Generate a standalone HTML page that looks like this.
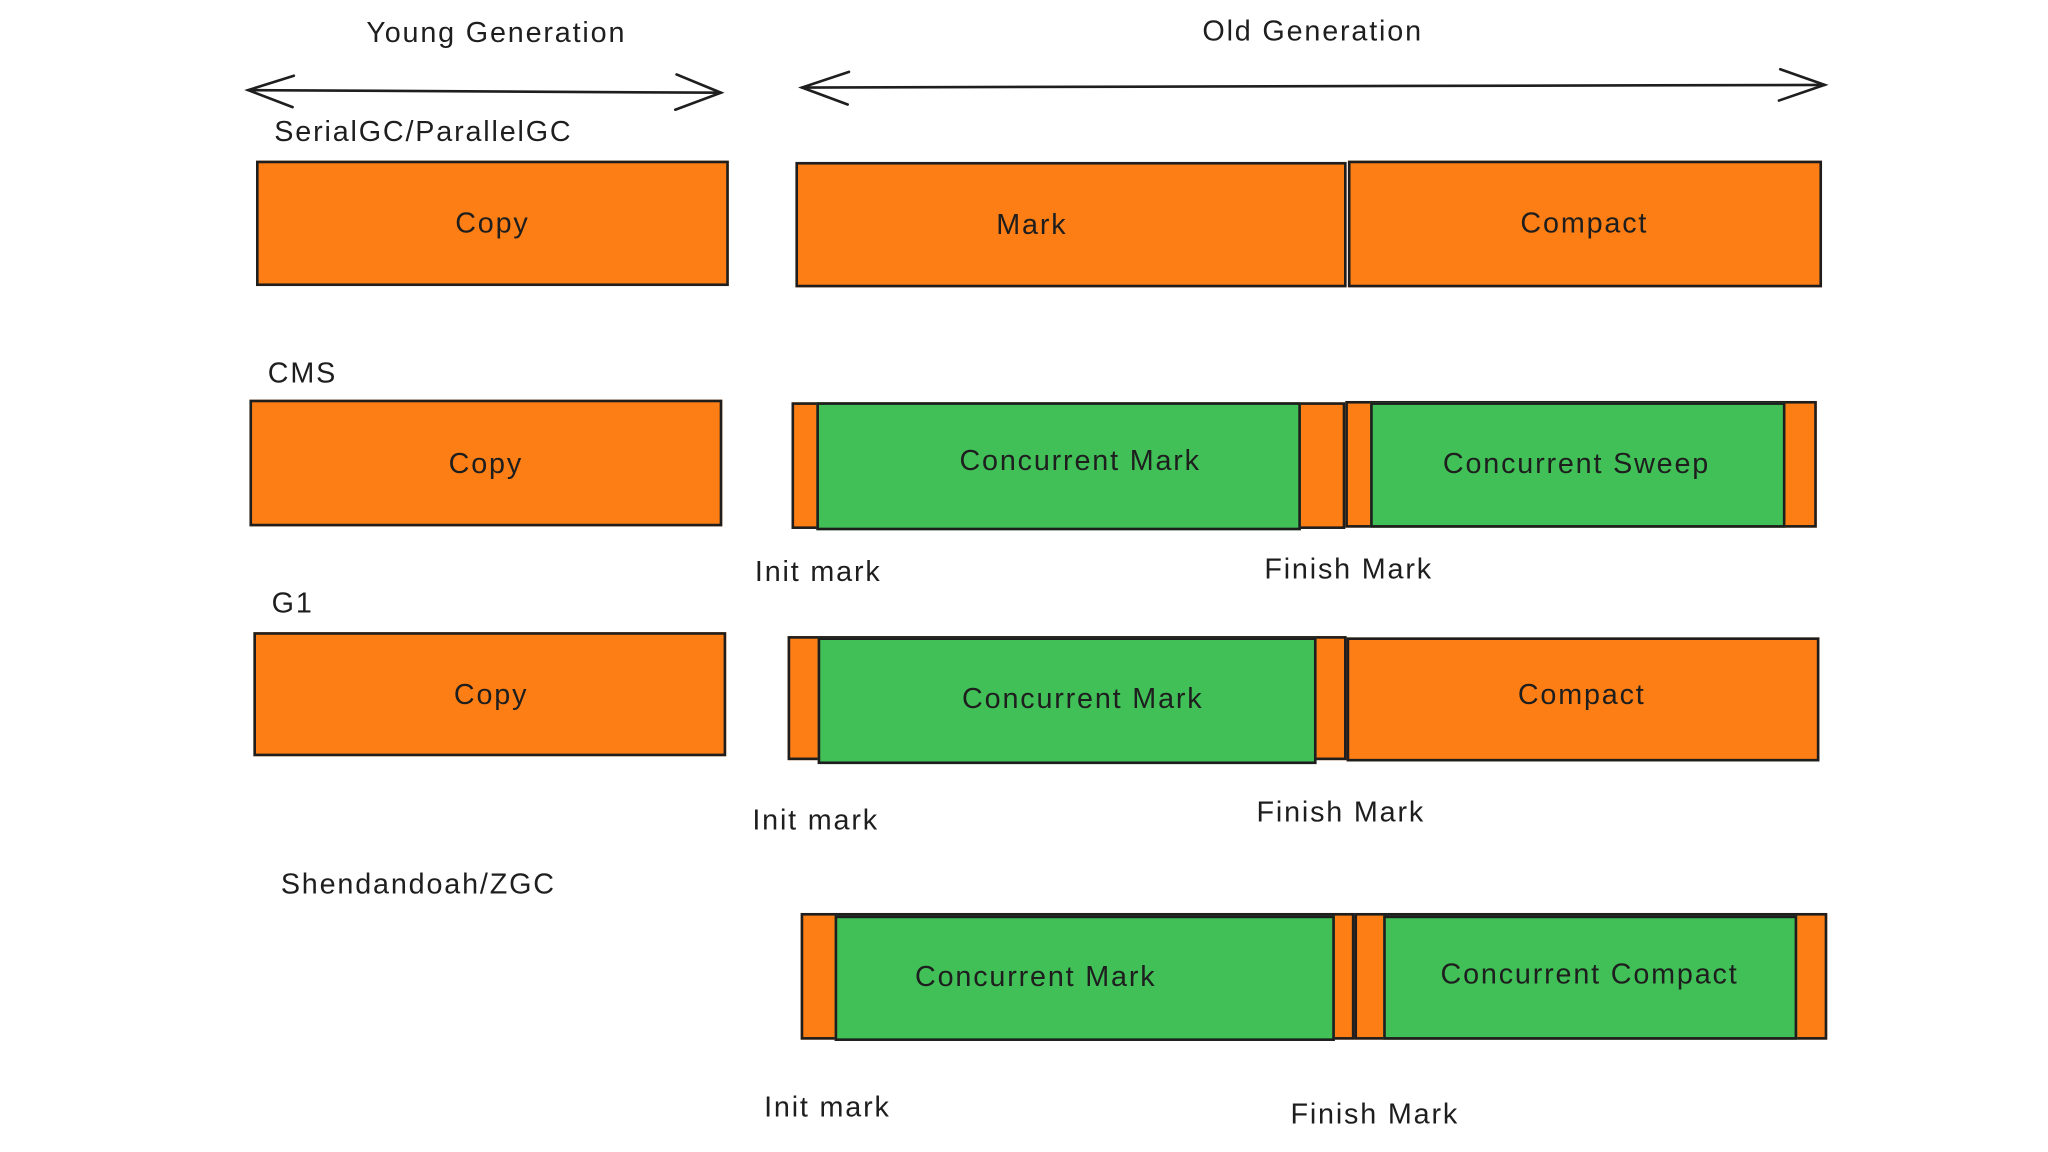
<!DOCTYPE html>
<html><head><meta charset="utf-8"><style>
html,body{margin:0;padding:0;background:#fff;width:2048px;height:1152px;overflow:hidden}
#w{position:absolute;left:0;top:0;width:1568px;height:882px;transform:scale(1.30612);transform-origin:0 0}
.b{position:absolute;box-sizing:border-box;border:2px solid #1e1e1e}
.o{background:#fd7e14}.g{background:#40c057}
.t,.l{position:absolute;font-family:"Liberation Sans",sans-serif;font-size:22px;letter-spacing:1.4px;color:#1e1e1e;white-space:nowrap}
.t{transform:translate(-50%,-50%)}
.l{transform:translateY(-50%)}
</style></head><body><div id="w">
<svg width="1568" height="882" style="position:absolute;left:0;top:0">
<g stroke="#1e1e1e" stroke-width="2" fill="none" stroke-linecap="round">
<line x1="190" y1="69" x2="552" y2="71"/>
<polyline points="225,58 190,69 224,82"/>
<polyline points="518,57 552,71 517,84"/>
<line x1="614" y1="67" x2="1397" y2="65"/>
<polyline points="650,55 614,67 649,80"/>
<polyline points="1363,53 1397,65 1362,77"/>
</g></svg>
<div class="t" style="left:380px;top:25px">Young Generation</div>
<div class="t" style="left:1005px;top:24px">Old Generation</div>
<div class="l" style="left:210px;top:101px">SerialGC/ParallelGC</div>
<div class="b o" style="left:196px;top:123px;width:362px;height:96px"></div>
<div class="t" style="left:377px;top:171px">Copy</div>
<div class="b o" style="left:609px;top:124px;width:422px;height:96px"></div>
<div class="t" style="left:790px;top:172px">Mark</div>
<div class="b o" style="left:1032px;top:123px;width:363px;height:97px"></div>
<div class="t" style="left:1213px;top:171px">Compact</div>

<div class="l" style="left:205px;top:286px">CMS</div>
<div class="b o" style="left:191px;top:306px;width:362px;height:97px"></div>
<div class="t" style="left:372px;top:355px">Copy</div>
<div class="b o" style="left:606px;top:308px;width:424px;height:97px"></div>
<div class="b g" style="left:625px;top:308px;width:371px;height:98px"></div>
<div class="t" style="left:827px;top:353px">Concurrent Mark</div>
<div class="b o" style="left:1030px;top:307px;width:361px;height:97px"></div>
<div class="b g" style="left:1049px;top:308px;width:318px;height:96px"></div>
<div class="t" style="left:1207px;top:355px">Concurrent Sweep</div>
<div class="l" style="left:578px;top:438px">Init mark</div>
<div class="l" style="left:968px;top:436px">Finish Mark</div>

<div class="l" style="left:208px;top:462px">G1</div>
<div class="b o" style="left:194px;top:484px;width:362px;height:95px"></div>
<div class="t" style="left:376px;top:532px">Copy</div>
<div class="b o" style="left:603px;top:487px;width:428px;height:95px"></div>
<div class="b g" style="left:626px;top:488px;width:382px;height:97px"></div>
<div class="t" style="left:829px;top:535px">Concurrent Mark</div>
<div class="b o" style="left:1031px;top:488px;width:362px;height:95px"></div>
<div class="t" style="left:1211px;top:532px">Compact</div>
<div class="l" style="left:576px;top:628px">Init mark</div>
<div class="l" style="left:962px;top:622px">Finish Mark</div>

<div class="l" style="left:215px;top:677px">Shendandoah/ZGC</div>
<div class="b o" style="left:613px;top:699px;width:424px;height:97px"></div>
<div class="b g" style="left:639px;top:701px;width:383px;height:96px"></div>
<div class="t" style="left:793px;top:748px">Concurrent Mark</div>
<div class="b o" style="left:1037px;top:699px;width:362px;height:97px"></div>
<div class="b g" style="left:1059px;top:701px;width:317px;height:95px"></div>
<div class="t" style="left:1217px;top:746px">Concurrent Compact</div>
<div class="l" style="left:585px;top:848px">Init mark</div>
<div class="l" style="left:988px;top:853px">Finish Mark</div>
</div></body></html>
